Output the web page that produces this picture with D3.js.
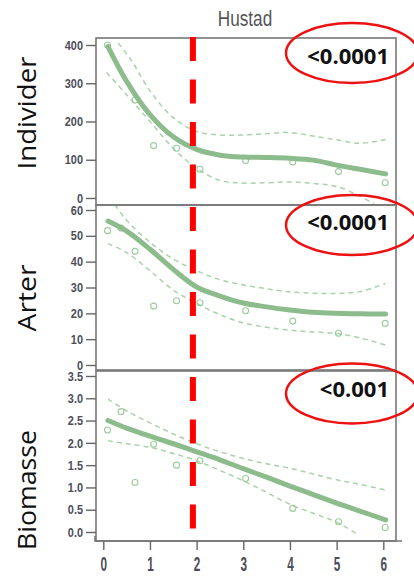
<!DOCTYPE html>
<html>
<head>
<meta charset="utf-8">
<script src="https://cdn.jsdelivr.net/npm/d3@7"></script>
<style>
  body { margin: 0; background: #fff; }
  svg { display: block; }
</style>
</head>
<body>
<div id="chart"></div>
<script>
// site positions (x axis) and observed values (null = not visible)
const siteX = [0.09, 0.38, 0.68, 1.08, 1.57, 2.07, 3.05, 4.06, 5.04, 6.04];
const indPoints = [400, null, 256, 137, 130, 75, 98, 94, 69, 40];
const artPoints = [52, 53, 44, 22.8, 24.9, 24.1, 21, 17, 12.3, 16.1];
const bioPoints = [2.29, 2.70, 1.11, 1.97, 1.50, 1.60, 1.20, 0.53, 0.23, 0.10];

// fitted curves and confidence bands
const fitX = [0.1, 0.5, 1, 1.5, 2, 2.5, 3, 3.5, 4, 4.5, 5, 5.5, 6.05];
const indFit = [396, 305, 218, 160, 127, 112, 107, 106, 104, 99, 86, 75, 63];
const artFit = [55.7, 51.8, 44.8, 37, 30.2, 26.7, 24, 22.5, 21.3, 20.4, 20, 19.8, 19.7];
const bioFit = [2.5, 2.33, 2.15, 1.98, 1.8, 1.62, 1.42, 1.23, 1.03, 0.84, 0.65, 0.47, 0.27];

const indUpX = [0.32, 0.6, 1, 1.5, 2, 2.5, 3, 3.5, 4, 4.5, 5, 5.5, 6.05];
const indUp = [405, 360, 280, 210, 174, 165, 165, 168, 171, 162, 152, 143, 153];
const indLoX = [0.07, 0.5, 1, 1.5, 2, 2.5, 3, 3.5, 4, 4.5, 5, 5.5, 5.8];
const indLo = [328, 270, 200, 130, 78, 46, 39, 40, 42, 38, 30, 5, -15];

const artUpX = [0.25, 0.5, 1, 1.5, 2, 2.5, 3, 3.5, 4, 4.5, 5, 5.5, 6.05];
const artUp = [62, 56, 47.5, 41, 36.5, 33, 31, 29.5, 28.3, 27.8, 27.7, 28.4, 31.6];
const artLoX = [0.1, 0.5, 1, 1.5, 2, 2.5, 3, 3.5, 4, 4.5, 5, 5.5, 6.05];
const artLo = [47, 43.5, 36.5, 29, 23.8, 19.5, 16.3, 14.6, 13.5, 12.8, 12.2, 10.5, 7.7];

const bioUpX = [0.1, 0.5, 1, 1.5, 2, 2.5, 3, 3.5, 4, 4.5, 5, 5.5, 6.05];
const bioUp = [2.98, 2.72, 2.45, 2.2, 1.98, 1.8, 1.65, 1.53, 1.43, 1.3, 1.17, 1.07, 0.94];
const bioLoX = [0.1, 0.5, 1, 1.5, 2, 2.5, 3, 3.5, 4, 4.5, 5, 5.45];
const bioLo = [2.05, 1.98, 1.9, 1.76, 1.6, 1.38, 1.15, 0.89, 0.62, 0.42, 0.22, -0.05];

const yLabels = ["Individer", "Arter", "Biomasse"];
const pLabels = ["<0.0001", "<0.0001", "<0.001"];
const indTicks = [0, 100, 200, 300, 400];
const artTicks = [0, 10, 20, 30, 40, 50, 60];
const bioTicks = [0, 0.5, 1, 1.5, 2, 2.5, 3, 3.5];
const xTicks = [0, 1, 2, 3, 4, 5, 6];
const breakX = 1.92;

const width = 414, height = 584;
const svg = d3.select("#chart").append("svg").attr("width", width).attr("height", height);

const x = d3.scaleLinear().domain([0, 6]).range([103.3, 383.3]);
const left = 96, right = 396;
const narrow = "'Liberation Sans Narrow', 'Arial Narrow', 'Liberation Sans', Arial, sans-serif";
const sq = 0.84; // horizontal squeeze for the narrow R fonts

const panels = [
  { top: 38, bottom: 205, domain: [0, 400], range: [198, 45], ticks: indTicks, fmt: d3.format("d"),
    pts: indPoints, fit: indFit, upX: indUpX, up: indUp, loX: indLoX, lo: indLo,
    labelY: 113, labelLen: 113, pY: 64, ellY: 53 },
  { top: 205, bottom: 370, domain: [0, 60], range: [365, 210], ticks: artTicks, fmt: d3.format("d"),
    pts: artPoints, fit: artFit, upX: artUpX, up: artUp, loX: artLoX, lo: artLo,
    labelY: 298, labelLen: 67, pY: 230, ellY: 225 },
  { top: 371, bottom: 541, domain: [0, 3.5], range: [532, 376], ticks: bioTicks, fmt: d3.format(".1f"),
    pts: bioPoints, fit: bioFit, upX: bioUpX, up: bioUp, loX: bioLoX, lo: bioLo,
    labelY: 490, labelLen: 120, pY: 397, ellY: 393.5 }
];

const green = "#8cbb8c", lightGreen = "#a9d2a9";
const frameCol = "#777";

panels.forEach((p, i) => {
  const y = d3.scaleLinear().domain(p.domain).range(p.range);

  svg.append("clipPath").attr("id", "clip" + i)
    .append("rect").attr("x", left).attr("y", p.top).attr("width", right - left).attr("height", p.bottom - p.top);

  const g = svg.append("g").attr("clip-path", "url(#clip" + i + ")");
  const path = d3.line().x(d => x(d[0])).y(d => y(d[1])).curve(d3.curveCatmullRom);

  g.append("path").datum(d3.zip(p.upX, p.up)).attr("d", path)
    .attr("fill", "none").attr("stroke", lightGreen).attr("stroke-width", 1.5).attr("stroke-dasharray", "5,4");
  g.append("path").datum(d3.zip(p.loX, p.lo)).attr("d", path)
    .attr("fill", "none").attr("stroke", lightGreen).attr("stroke-width", 1.5).attr("stroke-dasharray", "5,4");

  g.selectAll("circle.pt").data(d3.zip(siteX, p.pts).filter(d => d[1] != null)).enter().append("circle")
    .attr("cx", d => x(d[0])).attr("cy", d => y(d[1])).attr("r", 3)
    .attr("fill", "none").attr("stroke", "#9ccb9c").attr("stroke-width", 1.1);

  g.append("path").datum(d3.zip(fitX, p.fit)).attr("d", path)
    .attr("fill", "none").attr("stroke", green).attr("stroke-width", 5).attr("stroke-linecap", "round");

  // frame
  svg.append("rect").attr("x", left).attr("y", p.top).attr("width", right - left).attr("height", p.bottom - p.top)
    .attr("fill", "none").attr("stroke", frameCol).attr("stroke-width", 1.6);

  // y axis
  const ax = svg.append("g").attr("transform", `translate(${left},0)`)
    .call(d3.axisLeft(y).tickValues(p.ticks).tickFormat(p.fmt).tickSize(10).tickPadding(3));
  ax.select(".domain").remove();
  ax.selectAll("line").attr("stroke", "#666").attr("stroke-width", 1.4);
  ax.selectAll("text").attr("fill", "#4d4d5a").attr("x", -13 / sq).attr("transform", `scale(${sq},1)`)
    .style("font-family", narrow).style("font-size", "13px").style("font-weight", "bold");

  // row label
  svg.append("text").attr("transform", `translate(36,${p.labelY}) rotate(-90)`)
    .attr("text-anchor", "middle").attr("textLength", p.labelLen).attr("lengthAdjust", "spacingAndGlyphs")
    .style("font-family", "'Open Sans', sans-serif").style("font-size", "25px").attr("fill", "#111")
    .text(yLabels[i]);

  // p-value
  svg.append("text").attr("x", 389).attr("y", p.pY).attr("text-anchor", "end")
    .style("font-family", "'Open Sans', sans-serif").style("font-size", "22px").style("font-weight", "bold")
    .attr("fill", "#111").text(pLabels[i]);
});

// x axis
const xa = svg.append("g").attr("transform", "translate(0,541)")
  .call(d3.axisBottom(x).tickValues(xTicks).tickFormat(d3.format("d")).tickSize(9).tickPadding(7));
xa.select(".domain").attr("d", "M95,-5V0H402").attr("stroke", frameCol).attr("stroke-width", 1.6).attr("fill", "none");
xa.selectAll("line").attr("stroke", "#666").attr("stroke-width", 1.4);
xa.selectAll("text").attr("fill", "#4d4d5a").attr("y", 11.5).attr("dy", "0.71em").attr("transform", `scale(${sq},1.4)`)
  .style("font-family", narrow).style("font-size", "14px").style("font-weight", "bold");

// title
svg.append("text").attr("transform", "translate(245,26) scale(0.78,1)").attr("text-anchor", "middle")
  .style("font-family", narrow).style("font-size", "22px")
  .attr("fill", "#555").text("Hustad");

// red dashed break line
svg.append("line").attr("x1", x(breakX)).attr("x2", x(breakX)).attr("y1", 37).attr("y2", 530)
  .attr("stroke", "#ff0000").attr("stroke-width", 6).attr("stroke-dasharray", "24,18.5");

// red ellipses around p-values
svg.selectAll("ellipse").data(panels).enter().append("ellipse")
  .attr("cx", 352).attr("cy", d => d.ellY).attr("rx", 66).attr("ry", 30)
  .attr("fill", "none").attr("stroke", "#ee1111").attr("stroke-width", 2.5);
</script>
</body>
</html>
